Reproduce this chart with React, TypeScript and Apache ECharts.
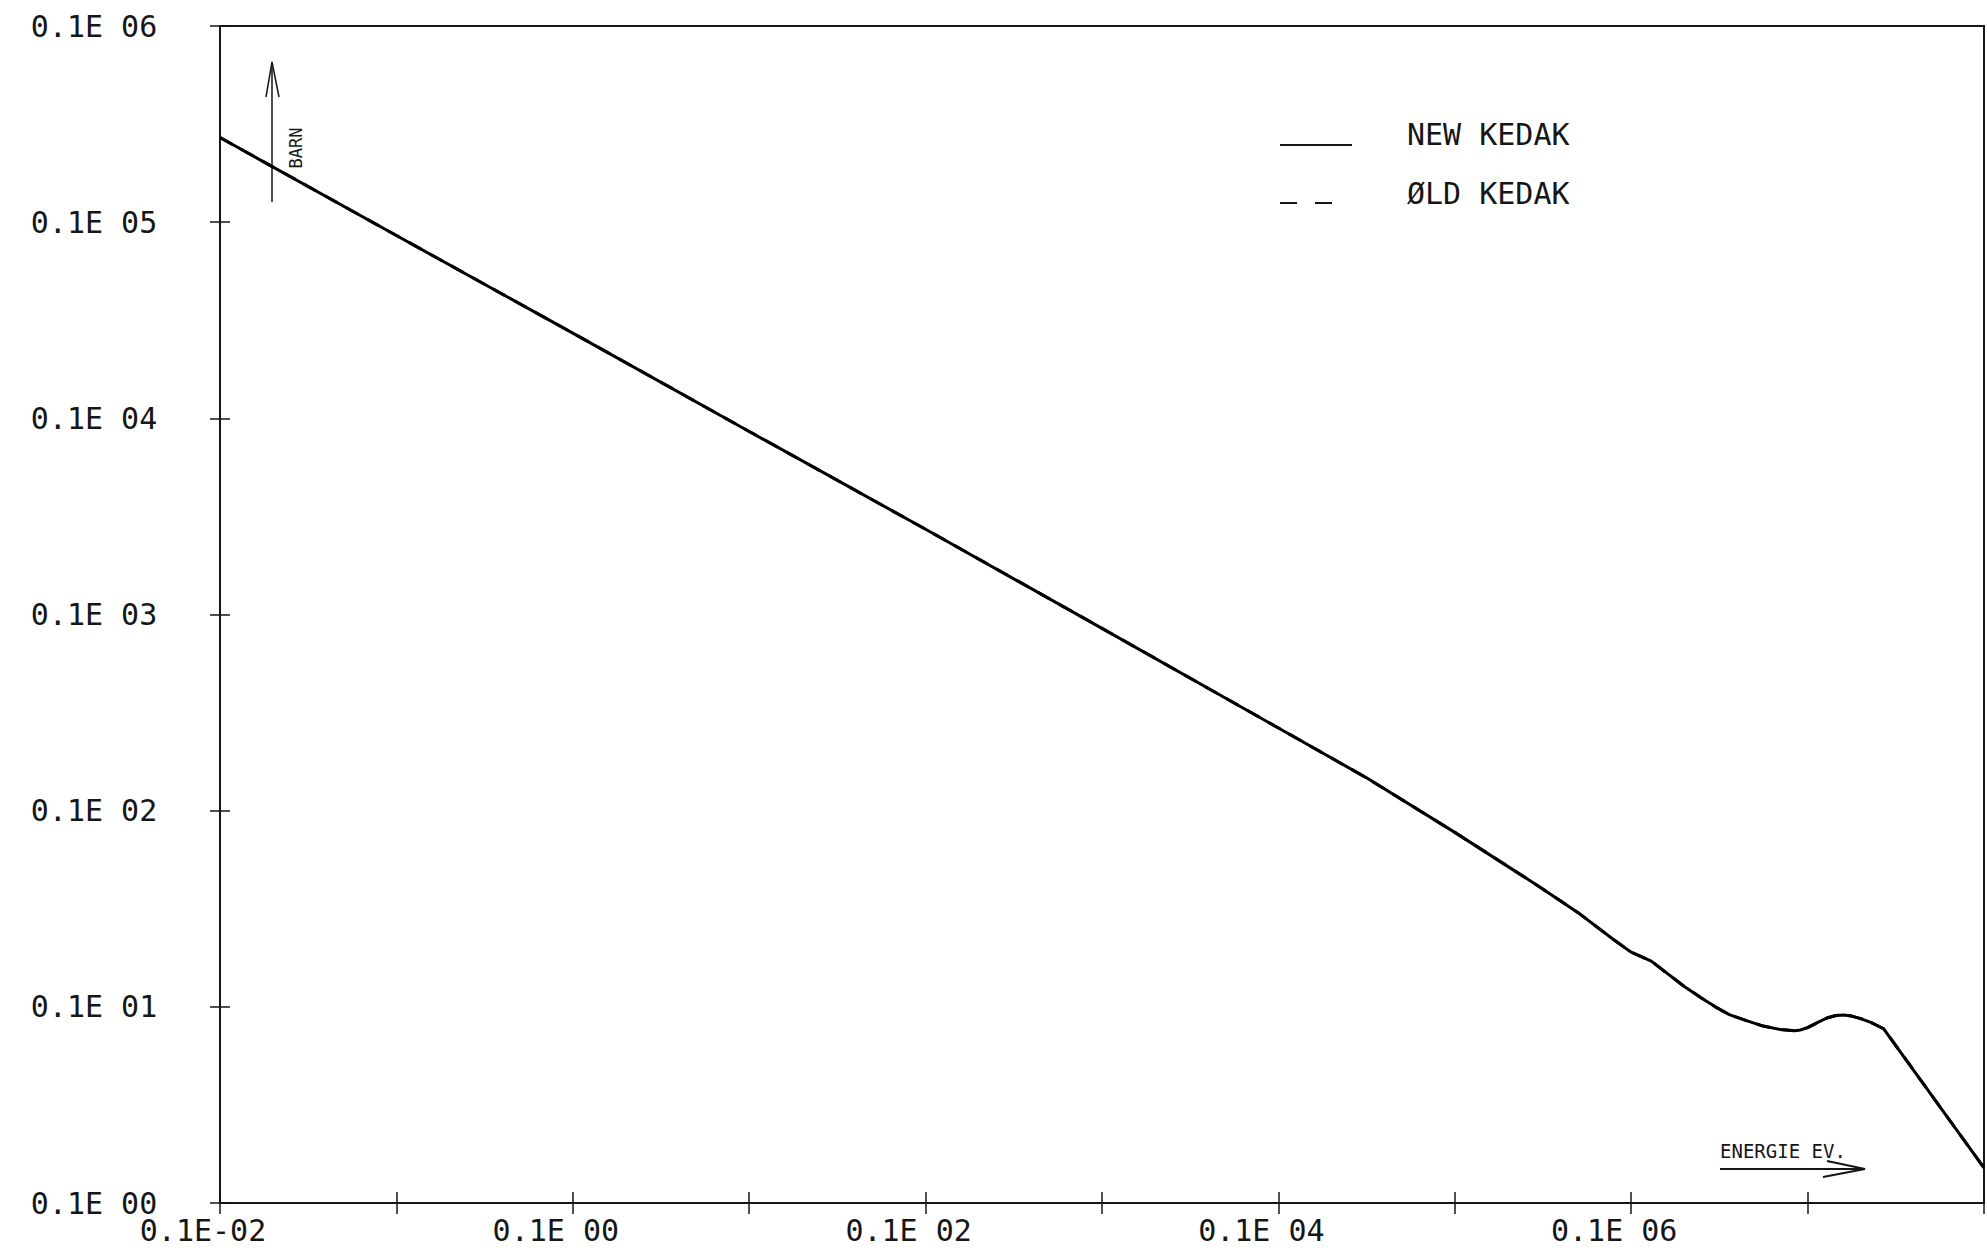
import { useEffect, useRef } from "react";
import * as echarts from "echarts";

// Neutron energy (eV) and cross section (barn)
const energies = [
  1e-3, 1e-2, 0.1, 1, 10, 100, 1000, 3160, 1e4, 3e4, 5e4, 8e4, 1e5, 1.3e5, 1.6e5, 2e5,
  2.5e5, 3e5, 3.6e5, 4.5e5, 5.6e5, 7e5, 8.5e5, 9.1e5, 1e6, 1.15e6, 1.3e6, 1.45e6, 1.6e6,
  1.78e6, 2e6, 2.3e6, 2.7e6, 1e7,
];
const newKedak = [
  27000, 8550, 2720, 857, 272, 85, 26.4, 14.7, 7.75, 4.11, 3.02, 2.19, 1.9, 1.71, 1.48, 1.27,
  1.11, 1.0, 0.912, 0.85, 0.798, 0.766, 0.755, 0.762, 0.783, 0.836, 0.88, 0.904, 0.908,
  0.897, 0.871, 0.83, 0.773, 0.151,
];
const oldKedak = [
  27000, 8550, 2720, 857, 272, 85, 26.4, 14.7, 7.75, 4.11, 3.02, 2.19, 1.9, 1.71, 1.48, 1.27,
  1.11, 1.0, 0.912, 0.85, 0.798, 0.766, 0.755, 0.762, 0.783, 0.836, 0.88, 0.904, 0.908,
  0.897, 0.871, 0.83, 0.773, 0.151,
];

// Decade labels, in the plotter's "0.1E xx" notation
const xTickLabels = ["0.1E-02", "", "0.1E 00", "", "0.1E 02", "", "0.1E 04", "", "0.1E 06", "", ""];
const yTickLabels = ["0.1E 00", "0.1E 01", "0.1E 02", "0.1E 03", "0.1E 04", "0.1E 05", "0.1E 06"];
const seriesNames = ["NEW KEDAK", "ØLD KEDAK"];
const yAxisTitle = "BARN";
const xAxisTitle = "ENERGIE EV.";

const X_MIN = 1e-3;
const X_MAX = 1e7;
const Y_MIN = 0.1;
const Y_MAX = 1e5;

const FONT = "'DejaVu Sans Mono', 'Liberation Mono', monospace";
const INK = "#161616";

const decade = (v: number) => Math.round(Math.log10(v));

export default function App() {
  const ref = useRef<HTMLDivElement>(null);

  useEffect(() => {
    if (!ref.current) return;
    const chart = echarts.init(ref.current, undefined, { renderer: "svg" });

    const xBase = {
      type: "log" as const,
      logBase: 10,
      min: X_MIN,
      max: X_MAX,
      interval: 1,
      splitNumber: 10,
      splitLine: { show: false },
      minorTick: { show: false },
    };
    const yBase = {
      type: "log" as const,
      logBase: 10,
      min: Y_MIN,
      max: Y_MAX,
      interval: 1,
      splitNumber: 6,
      splitLine: { show: false },
      minorTick: { show: false },
    };

    chart.setOption({
      animation: false,
      backgroundColor: "#ffffff",
      grid: {
        left: 220,
        right: 2,
        top: 26,
        bottom: 52,
        containLabel: false,
        show: true,
        borderColor: INK,
        borderWidth: 2,
        backgroundColor: "transparent",
      },
      xAxis: [
        {
          ...xBase,
          position: "bottom",
          axisLine: { show: true, lineStyle: { color: INK, width: 2 } },
          axisTick: { show: true, inside: false, length: 11, lineStyle: { color: INK, width: 1.5 } },
          axisLabel: {
            show: true,
            fontFamily: FONT,
            fontSize: 30,
            color: INK,
            margin: 12,
            align: "center",
            padding: [0, 34, 0, 0],
            showMinLabel: true,
            showMaxLabel: true,
            formatter: (v: number) => xTickLabels[decade(v) + 3] ?? "",
          },
        },
        {
          ...xBase,
          position: "bottom",
          axisLine: { show: false },
          axisTick: { show: true, inside: true, length: 11, lineStyle: { color: INK, width: 1.5 } },
          axisLabel: { show: false },
        },
      ],
      yAxis: [
        {
          ...yBase,
          position: "left",
          axisLine: { show: true, lineStyle: { color: INK, width: 2 } },
          axisTick: { show: true, inside: false, length: 10, lineStyle: { color: INK, width: 1.5 } },
          axisLabel: {
            show: true,
            fontFamily: FONT,
            fontSize: 30,
            color: INK,
            margin: 126,
            align: "center",
            verticalAlign: "middle",
            showMinLabel: true,
            showMaxLabel: true,
            formatter: (v: number) => yTickLabels[decade(v) + 1] ?? "",
          },
        },
        {
          ...yBase,
          position: "left",
          axisLine: { show: false },
          axisTick: { show: true, inside: true, length: 10, lineStyle: { color: INK, width: 1.5 } },
          axisLabel: { show: false },
        },
      ],
      series: [
        {
          name: seriesNames[1],
          type: "line",
          xAxisIndex: 0,
          yAxisIndex: 0,
          showSymbol: false,
          smooth: false,
          z: 2,
          lineStyle: { color: "#000", width: 3, type: [14, 10], join: "round" },
          data: energies.map((e, i) => [e, oldKedak[i]]),
        },
        {
          name: seriesNames[0],
          type: "line",
          xAxisIndex: 0,
          yAxisIndex: 0,
          showSymbol: false,
          smooth: false,
          z: 3,
          lineStyle: { color: "#000", width: 3, join: "round" },
          data: energies.map((e, i) => [e, newKedak[i]]),
        },
      ],
      graphic: [
        // cross-section unit arrow
        {
          type: "line",
          shape: { x1: 272, y1: 62, x2: 272, y2: 202 },
          style: { stroke: INK, lineWidth: 1.5 },
        },
        {
          type: "polyline",
          shape: { points: [[266, 97], [272, 62], [279, 97]] },
          style: { stroke: INK, lineWidth: 1.5, fill: null },
        },
        {
          type: "text",
          x: 296,
          y: 148,
          rotation: Math.PI / 2,
          style: {
            text: yAxisTitle,
            fontFamily: FONT,
            fontSize: 17,
            fill: INK,
            align: "center",
            verticalAlign: "middle",
          },
        },
        // legend
        {
          type: "line",
          shape: { x1: 1280, y1: 145, x2: 1352, y2: 145 },
          style: { stroke: INK, lineWidth: 2 },
        },
        {
          type: "line",
          shape: { x1: 1280, y1: 203, x2: 1333, y2: 203 },
          style: { stroke: INK, lineWidth: 2, lineDash: [17, 18] },
        },
        {
          type: "text",
          x: 1407,
          y: 134,
          style: {
            text: seriesNames[0],
            fontFamily: FONT,
            fontSize: 30,
            fill: INK,
            align: "left",
            verticalAlign: "middle",
          },
        },
        {
          type: "text",
          x: 1407,
          y: 193,
          style: {
            text: seriesNames[1],
            fontFamily: FONT,
            fontSize: 30,
            fill: INK,
            align: "left",
            verticalAlign: "middle",
          },
        },
        // energy axis arrow
        {
          type: "text",
          x: 1720,
          y: 1151,
          style: {
            text: xAxisTitle,
            fontFamily: FONT,
            fontSize: 19,
            fill: INK,
            align: "left",
            verticalAlign: "middle",
          },
        },
        {
          type: "line",
          shape: { x1: 1720, y1: 1169, x2: 1865, y2: 1169 },
          style: { stroke: INK, lineWidth: 2 },
        },
        {
          type: "polyline",
          shape: { points: [[1827, 1161], [1865, 1169], [1823, 1177]] },
          style: { stroke: INK, lineWidth: 2, fill: null },
        },
      ],
    });

    return () => chart.dispose();
  }, []);

  return (
    <div
      ref={ref}
      style={{ position: "absolute", left: 0, top: 0, width: 1987, height: 1255, background: "#fff" }}
    />
  );
}
